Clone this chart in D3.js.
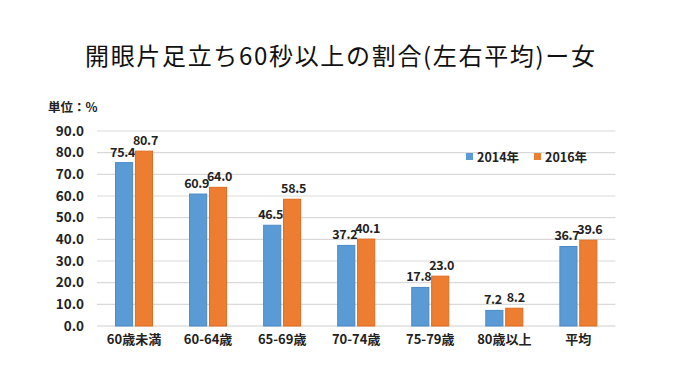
<!DOCTYPE html>
<html><head><meta charset="utf-8">
<script src="https://cdn.jsdelivr.net/npm/d3@7"></script>
<style>body{margin:0;background:#fff}svg{display:block}</style>
</head><body>
<script>
const categories = ["60歳未満","60-64歳","65-69歳","70-74歳","75-79歳","80歳以上","平均"];
const series2014 = [75.4,60.9,46.5,37.2,17.8,7.2,36.7];
const series2016 = [80.7,64.0,58.5,40.1,23.0,8.2,39.6];
const seriesNames = ["2014年","2016年"];
const yTicks = [0,10,20,30,40,50,60,70,80,90];
const colors = ["#5b9bd5","#ed7d31"];
const strokes = ["#4a8ac6","#e06b1f"];

const W=680,H=383;
const svg=d3.select("body").append("svg").attr("width",W).attr("height",H);
const font='"Noto Sans CJK JP","Noto Sans",sans-serif';

const x=d3.scaleBand().domain(categories).range([97,615.4]);
const y=d3.scaleLinear().domain([0,90]).range([326,131]);
const x1=d3.scaleBand().domain(seriesNames).range([0,37]).paddingInner(0.14);

// gridlines
svg.append("g").selectAll("line").data(yTicks).join("line")
 .attr("x1",97).attr("x2",615.4).attr("y1",d=>y(d)).attr("y2",d=>y(d))
 .attr("stroke",d=>d===0?"#d0d0d0":"#d9d9d9").attr("stroke-width",1.2);

// y axis labels
const yAxis=d3.axisLeft(y).tickValues(yTicks).tickFormat(d3.format(".1f")).tickSize(0).tickPadding(0);
const ya=svg.append("g").attr("transform","translate(84,0)").call(yAxis);
ya.select(".domain").remove();
ya.selectAll("text").attr("font-family",font).attr("font-size",13.5).attr("font-weight","bold").attr("fill","#222");

// x axis labels
const xAxis=d3.axisBottom(x).tickSize(0).tickPadding(0);
const xa=svg.append("g").attr("transform","translate(0,335)").call(xAxis);
xa.select(".domain").remove();
xa.selectAll("text").attr("font-family",font).attr("font-size",13).attr("font-weight","bold").attr("fill","#222");

const data=[series2014,series2016];
const groups=svg.append("g").selectAll("g").data(seriesNames).join("g");
groups.each(function(s,si){
  const g=d3.select(this);
  const vals=data[si];
  g.selectAll("rect").data(categories).join("rect")
   .attr("x",(c)=>x(c)+(x.bandwidth()-37)/2+x1(s))
   .attr("width",x1.bandwidth())
   .attr("y",(c,i)=>y(vals[i]))
   .attr("height",(c,i)=>y(0)-y(vals[i]))
   .attr("fill",colors[si]).attr("stroke",strokes[si]).attr("stroke-width",1);
  g.selectAll("text").data(categories).join("text")
   .attr("x",(c)=>x(c)+(x.bandwidth()-37)/2+x1(s)+x1.bandwidth()/2+(si===0?-1.5:1.5))
   .attr("y",(c,i)=>y(vals[i])-6)
   .attr("text-anchor","middle")
   .attr("font-family",font).attr("font-size",12.5).attr("font-weight","bold").attr("fill","#222")
   .attr("letter-spacing",-0.3)
   .text((c,i)=>vals[i].toFixed(1));
});

// legend
const lx=[466,534];
seriesNames.forEach((s,i)=>{
  svg.append("rect").attr("x",lx[i]).attr("y",153).attr("width",7).attr("height",7).attr("fill",colors[i]);
  svg.append("text").attr("x",lx[i]+11).attr("y",161.5).attr("font-family",font).attr("font-size",12.5)
   .attr("font-weight","bold").attr("fill","#222").text(s);
});

// unit label
svg.append("text").attr("x",48).attr("y",111.5).attr("font-family",font).attr("font-size",12.5)
 .attr("font-weight","bold").attr("fill","#222").text("単位：%");

// title
svg.append("text").attr("x",85).attr("y",65)
 .attr("font-family",font).attr("font-size",24).attr("fill","#111")
 .attr("textLength",510).attr("lengthAdjust","spacing")
 .text("開眼片足立ち60秒以上の割合(左右平均)ー女");
</script>
</body></html>
